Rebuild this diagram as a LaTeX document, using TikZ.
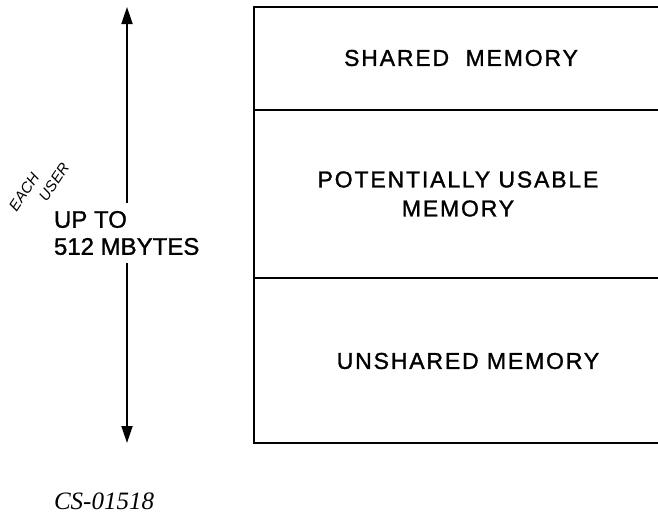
\documentclass[tikz,border=0pt]{standalone}
\usepackage{fontspec}
\setmainfont[FakeBold=1.2]{Liberation Sans}
\newfontfamily\wideface[LetterSpace=8,FakeBold=1.2]{Liberation Sans}
\newfontfamily\handface{Liberation Sans}
\newfontfamily\serifface{Liberation Serif}
\usetikzlibrary{arrows.meta}

\begin{document}
\begin{tikzpicture}[x=1pt,y=-1pt,line width=2pt,
    every node/.style={inner sep=0pt},
    region/.style={font=\wideface\fontsize{23}{29}\selectfont,align=center},
    hand/.style={rotate=56,font=\handface\itshape\fontsize{15}{15}\selectfont},
    sizearrow/.style={-{Triangle[width=11pt,length=17pt]},line width=1.8pt}]
  \useasboundingbox (0,0) rectangle (658,520);

  \draw (664,7) -- (254,7) -- (254,443) -- (664,443);
  \draw (254,110) -- (664,110);
  \draw (254,278) -- (664,278);

  \node[region] (shared) at (461,58) {SHARED\ \ MEMORY};
  \node[region] (usable) at (458,194) {POTENTIALLY USABLE\\MEMORY};
  \node[region] (unshared) at (468,361) {UNSHARED MEMORY};

  \node[anchor=west,align=left,font=\fontsize{24}{27}\selectfont] (size) at (53,233) {UP TO\\512 MBYTES};
  \node[hand] (each) at (24,192) {EACH};
  \node[hand] (user) at (54,182) {USER};

  \coordinate (top) at (127,7);
  \coordinate (bot) at (127,443);
  \coordinate (gapup) at (127,203);
  \coordinate (gapdown) at (127,263);
  \draw[sizearrow] (gapup) -- (top);
  \draw[sizearrow] (gapdown) -- (bot);

  \node[anchor=base west,font=\serifface\itshape\fontsize{25}{25}\selectfont] (code) at (53,509) {CS-01518};
\end{tikzpicture}
\end{document}
